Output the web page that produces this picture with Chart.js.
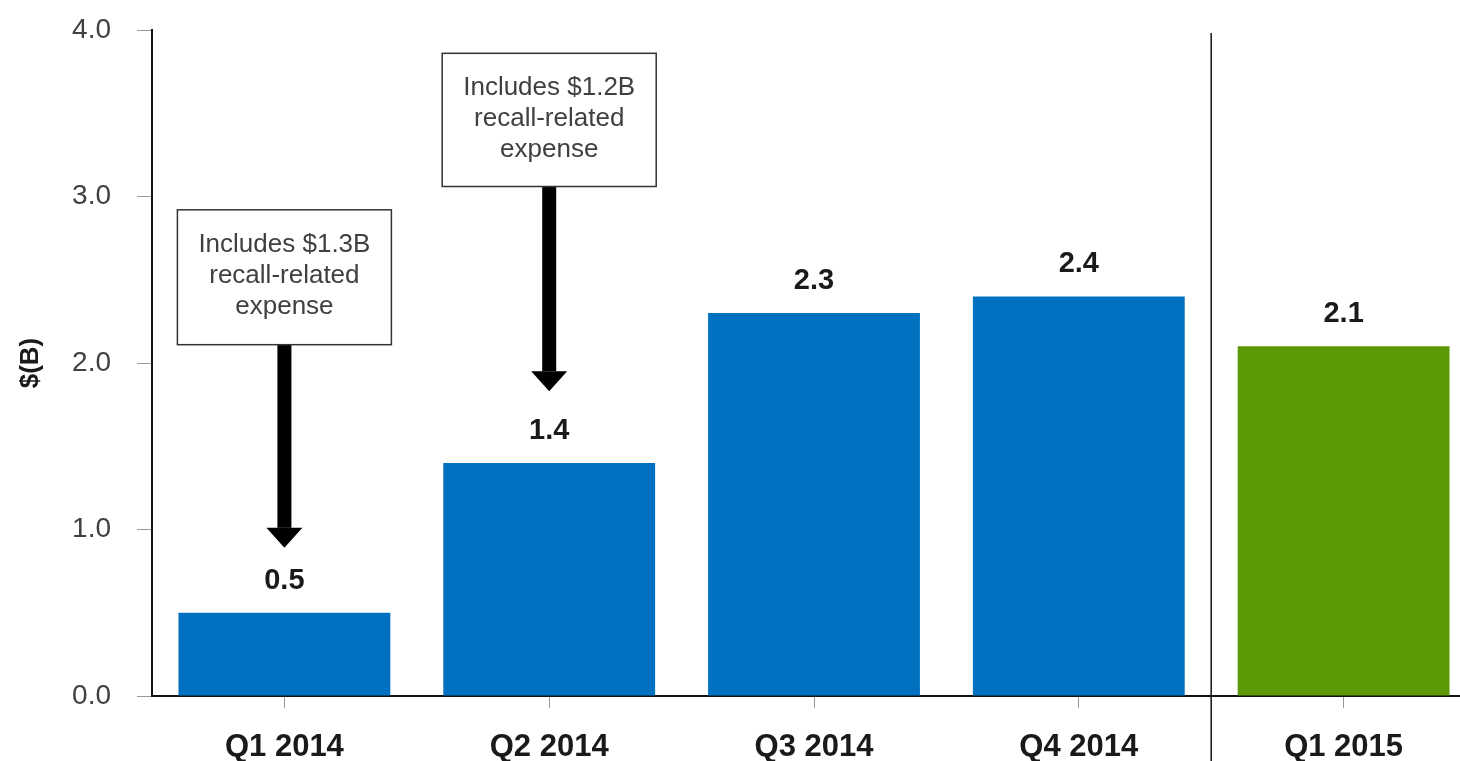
<!DOCTYPE html>
<html>
<head>
<meta charset="utf-8">
<script src="https://cdn.jsdelivr.net/npm/chart.js@4.4.0/dist/chart.umd.min.js"></script>
<style>
    html, body { margin:0; padding:0; background:#fff; overflow:hidden; }
    #wrap { width:1476px; height:761px; }
</style>
</head>
<body>
<div id="wrap"><canvas id="chartEarnings" width="1476" height="761"></canvas></div>
<script>
var quarters = ["Q1 2014", "Q2 2014", "Q3 2014", "Q4 2014", "Q1 2015"];
var earnings = [0.5, 1.4, 2.3, 2.4, 2.1];
var yTicks = [0, 1, 2, 3, 4];

// call-out boxes: which bar, text, box top/bottom and arrow tip (in $B on the y scale)
var noteIndex = [0, 1];
var noteLines = [
    ["Includes $1.3B", "recall-related", "expense"],
    ["Includes $1.2B", "recall-related", "expense"]
];
var noteBoxTop = [2.92, 3.86];
var noteBoxBottom = [2.11, 3.06];
var noteArrowTip = [0.89, 1.83];

var FONT = "'Liberation Sans', Arial, sans-serif";
var barColors = ['#0070c0', '#0070c0', '#0070c0', '#0070c0', '#5b9a06'];

var valueLabels = {
    id: 'valueLabels',
    afterDatasetsDraw: function(chart){
        var ctx = chart.ctx;
        var meta = chart.getDatasetMeta(0);
        ctx.save();
        ctx.font = "bold 29px " + FONT;
        ctx.fillStyle = '#1a1a1a';
        ctx.textAlign = 'center';
        ctx.textBaseline = 'alphabetic';
        meta.data.forEach(function(bar, i){
            ctx.fillText(earnings[i].toFixed(1), bar.x, bar.y - 24);
        });
        ctx.restore();
    }
};

var separatorLine = {
    id: 'separatorLine',
    afterDraw: function(chart){
        var x = chart.scales.x;
        var px = (x.getPixelForValue(3) + x.getPixelForValue(4)) / 2;
        var ctx = chart.ctx;
        ctx.save();
        ctx.strokeStyle = '#111';
        ctx.lineWidth = 1.5;
        ctx.beginPath();
        ctx.moveTo(px, 33);
        ctx.lineTo(px, chart.height);
        ctx.stroke();
        ctx.restore();
    }
};

var callOuts = {
    id: 'callOuts',
    afterDraw: function(chart){
        var ctx = chart.ctx;
        var xs = chart.scales.x, ys = chart.scales.y;
        var boxW = 214;
        noteIndex.forEach(function(idx, n){
            var cx = xs.getPixelForValue(idx);
            var top = ys.getPixelForValue(noteBoxTop[n]);
            var bottom = ys.getPixelForValue(noteBoxBottom[n]);
            var tip = ys.getPixelForValue(noteArrowTip[n]);
            ctx.save();
            // arrow
            ctx.fillStyle = '#000';
            ctx.fillRect(cx - 7, bottom, 14, tip - 20 - bottom);
            ctx.beginPath();
            ctx.moveTo(cx - 18, tip - 20);
            ctx.lineTo(cx + 18, tip - 20);
            ctx.lineTo(cx, tip);
            ctx.closePath();
            ctx.fill();
            // box
            ctx.fillStyle = '#fff';
            ctx.fillRect(cx - boxW / 2, top, boxW, bottom - top);
            ctx.strokeStyle = '#333';
            ctx.lineWidth = 1.5;
            ctx.strokeRect(cx - boxW / 2, top, boxW, bottom - top);
            // text
            ctx.fillStyle = '#404040';
            ctx.font = "26px " + FONT;
            ctx.textAlign = 'center';
            ctx.textBaseline = 'middle';
            noteLines[n].forEach(function(line, k){
                ctx.fillText(line, cx, top + 35 + k * 31);
            });
            ctx.restore();
        });
    }
};

var ctx = document.getElementById('chartEarnings').getContext('2d');
var chart = new Chart(ctx, {
    type: 'bar',
    data: {
        labels: quarters,
        datasets: [{
            data: earnings,
            backgroundColor: barColors,
            borderWidth: 0,
            barPercentage: 0.8,
            categoryPercentage: 1.0
        }]
    },
    options: {
        responsive: false,
        animation: false,
        devicePixelRatio: 1,
        layout: { padding: { top: 30, right: 0, left: 0, bottom: 0 } },
        plugins: {
            legend: { display: false },
            tooltip: { enabled: false }
        },
        scales: {
            x: {
                offset: true,
                grid: { offset: false, drawOnChartArea: false, drawTicks: true, tickLength: 12, tickColor: '#999' },
                border: { display: true, color: '#111', width: 2 },
                ticks: {
                    color: '#1a1a1a',
                    font: { family: FONT, size: 31, weight: 'bold' },
                    padding: 21,
                    maxRotation: 0
                },
                afterFit: function(scale){ scale.height = 65; }
            },
            y: {
                min: 0,
                max: 4,
                afterBuildTicks: function(scale){
                    scale.ticks = yTicks.map(function(v){ return { value: v }; });
                },
                grid: { drawOnChartArea: false, drawTicks: true, tickLength: 15, tickColor: '#999' },
                border: { display: true, color: '#111', width: 2 },
                ticks: {
                    color: '#404040',
                    font: { family: FONT, size: 28 },
                    padding: 26,
                    callback: function(v){ return Number(v).toFixed(1); }
                },
                title: {
                    display: true,
                    text: '$(B)',
                    color: '#1a1a1a',
                    font: { family: FONT, size: 26, weight: 'bold' },
                    padding: { top: 15, bottom: 0 }
                },
                afterFit: function(scale){
                    scale.width = 152;
                    // tick padding would otherwise push the plot area down
                    scale.paddingTop = 0;
                    scale.paddingBottom = 0;
                }
            }
        }
    },
    plugins: [valueLabels, separatorLine, callOuts]
});
</script>
</body>
</html>
